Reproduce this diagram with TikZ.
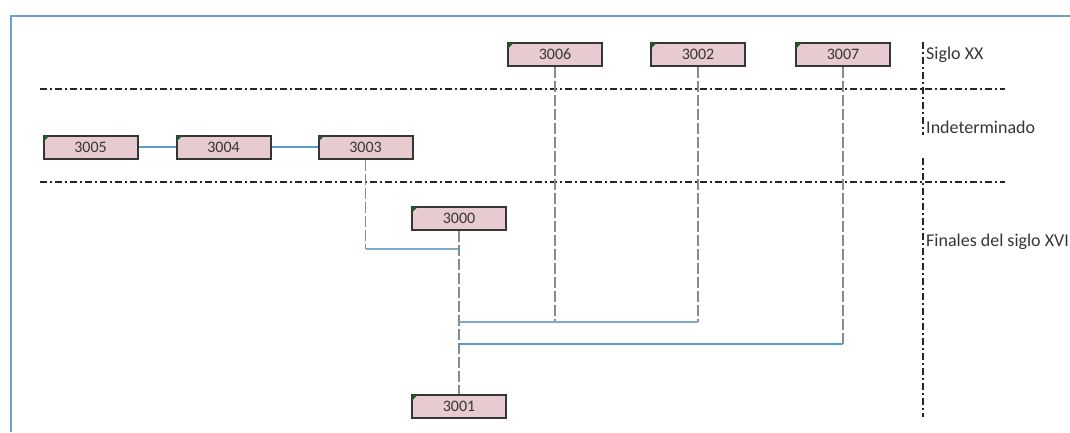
\documentclass[tikz,border=0pt]{standalone}
\usepackage{fontspec}
\setmainfont{Carlito}
\begin{document}
\begin{tikzpicture}[x=1pt,y=-1pt,
  yearbox/.style={draw=boxline, line width=2pt, fill=boxfill, minimum width=94pt, minimum height=23pt, inner sep=0pt, font=\fontsize{16}{17}\selectfont, text=labeltext},
  linkline/.style={draw=linkblue, line width=1.8pt},
  dropline/.style={draw=dropgray, line width=1.2pt, dash pattern=on 11pt off 3pt},
  joinline/.style={draw=joinblue, line width=1.1pt},
  eraline/.style={draw=black!85, line width=1.5pt, dash pattern=on 7pt off 3pt on 2pt off 3pt},
  eralabel/.style={anchor=west, inner sep=0pt, font=\fontsize{18}{20}\selectfont, text=labeltext}
]
\definecolor{boxline}{HTML}{363636}
\definecolor{boxfill}{HTML}{E8CBD0}
\definecolor{labeltext}{HTML}{353535}
\definecolor{linkblue}{HTML}{5B9BD5}
\definecolor{dropgray}{HTML}{8A8A8A}
\definecolor{joinblue}{HTML}{7FA7CC}
\definecolor{framecol}{HTML}{6F9FD2}
\definecolor{cornergreen}{HTML}{1E5A2A}
\useasboundingbox (0,0) rectangle (1070,432);
% frame
\draw[framecol, line width=2.8pt] (11,432) -- (11,16) -- (1070,16);
% era separators
\draw[eraline] (40,89) -- (1005,89);
\draw[eraline] (40,182) -- (1005,182);
\draw[eraline] (923,42) -- (923,135);
\draw[eraline] (923,158) -- (923,417);
% era labels
\node[eralabel] (lxx) at (926,55) {Siglo XX};
\node[eralabel] (lind) at (926,127) {Indeterminado};
\node[eralabel] (lxvi) at (926,242) {Finales del siglo XVI};
% boxes
\node[yearbox] (b3005) at (90.5,147) {3005};
\node[yearbox] (b3004) at (223.5,147) {3004};
\node[yearbox] (b3003) at (365.5,147) {3003};
\node[yearbox] (b3006) at (555,54) {3006};
\node[yearbox] (b3002) at (698,54) {3002};
\node[yearbox] (b3007) at (843,54) {3007};
\node[yearbox] (b3000) at (459,218) {3000};
\node[yearbox] (b3001) at (459,406) {3001};
\foreach \b in {b3005,b3004,b3003,b3006,b3002,b3007,b3000,b3001}
  \fill[cornergreen] ([shift={(1,1)}]\b.north west) -- ++(6,0) -- ++(-6,6) -- cycle;
% junction points
\coordinate (j1) at (459,249);
\coordinate (j2) at (459,322);
\coordinate (j3) at (459,344);
% connectors
\draw[linkline] (b3005) -- (b3004);
\draw[linkline] (b3004) -- (b3003);
\draw[dropline] (b3003.south) -- (b3003.south |- j1);
\draw[joinline] (b3003.south |- j1) -- (j1);
\draw[dropline] (b3000.south) -- (b3001.north);
\draw[dropline] (b3006.south) -- (b3006.south |- j2);
\draw[dropline] (b3002.south) -- (b3002.south |- j2);
\draw[joinline] (j2) -- (b3002.south |- j2);
\draw[dropline] (b3007.south) -- (b3007.south |- j3);
\draw[linkline, line width=1.4pt] (j3) -- (b3007.south |- j3);
\end{tikzpicture}
\end{document}
